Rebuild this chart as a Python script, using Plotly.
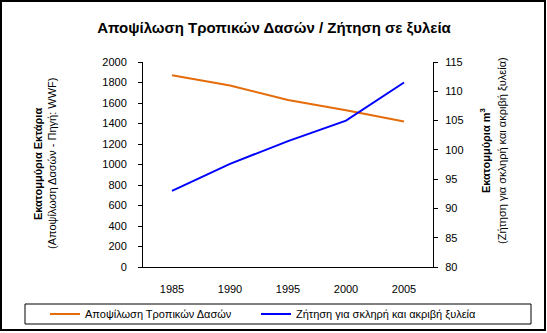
import plotly.graph_objects as go

# Data
years = ["1985", "1990", "1995", "2000", "2005"]
deforestation = [1870, 1770, 1630, 1530, 1420]      # million hectares
timber_demand = [93, 97.6, 101.5, 105, 111.5]       # million m3

left_ticks = list(range(0, 2001, 200))
right_ticks = list(range(80, 116, 5))

W, H = 547, 333
L, R, T, B = 143, 114, 62, 66
PW, PH = W - L - R, H - T - B

FONT = "Liberation Sans, Arial, sans-serif"
ORANGE = "#E46C0A"
BLUE = "#0000FF"


def px_x(x):
    return (x - L) / PW


def px_y(y):
    return (H - B - y) / PH


fig = go.Figure()
fig.add_trace(go.Scatter(
    x=years, y=deforestation, mode="lines", name="Αποψίλωση Τροπικών Δασών",
    line=dict(color=ORANGE, width=2), yaxis="y", legend="legend"))
fig.add_trace(go.Scatter(
    x=years, y=timber_demand, mode="lines", name="Ζήτηση για σκληρή και ακριβή ξυλεία",
    line=dict(color=BLUE, width=2), yaxis="y2", legend="legend2"))

axis_common = dict(showgrid=False, zeroline=False, showline=True, linecolor="black",
                   linewidth=1, tickcolor="black", ticklen=4, tickwidth=1,
                   tickfont=dict(family=FONT, size=11, color="black"))

legend_common = dict(orientation="h", xanchor="left", yanchor="middle",
                     y=px_y(314), bgcolor="rgba(0,0,0,0)", borderwidth=0,
                     font=dict(family=FONT, size=11, color="black"))

fig.update_layout(
    width=W, height=H,
    margin=dict(l=L, r=R, t=T, b=B, autoexpand=False),
    paper_bgcolor="white", plot_bgcolor="white",
    font=dict(family=FONT, size=11, color="black"),
    title=dict(text="<b>Αποψίλωση Τροπικών Δασών / Ζήτηση σε ξυλεία</b>",
               font=dict(family=FONT, size=15, color="black"),
               x=274 / W, xanchor="center", y=1 - 28 / H, yanchor="middle"),
    xaxis=dict(type="category", range=[-0.5, 4.5], showgrid=False, zeroline=False,
               showline=True, linecolor="black", linewidth=1, ticks="",
               ticklabelstandoff=12,
               tickfont=dict(family=FONT, size=11, color="black")),
    yaxis=dict(range=[0, 2000], tickvals=left_ticks, ticks="outside",
               ticklabelstandoff=9, **axis_common),
    yaxis2=dict(range=[80, 115], tickvals=right_ticks, ticks="outside",
                overlaying="y", side="right", anchor="x",
                ticklabelstandoff=5, **axis_common),
    # inner halves of the crossing tick marks
    yaxis3=dict(range=[0, 2000], tickvals=left_ticks, ticks="inside",
                overlaying="y", side="left", anchor="x", showticklabels=False,
                **axis_common),
    yaxis4=dict(range=[80, 115], tickvals=right_ticks, ticks="inside",
                overlaying="y", side="right", anchor="x", showticklabels=False,
                **axis_common),
    showlegend=True,
    legend=dict(x=px_x(45), **legend_common),
    legend2=dict(x=px_x(256), **legend_common),
)

# outer chart frame and legend frame
fig.add_shape(type="rect", xref="paper", yref="paper",
              x0=px_x(1), x1=px_x(545), y0=px_y(330), y1=px_y(1),
              line=dict(color="black", width=2), fillcolor="rgba(0,0,0,0)")
fig.add_shape(type="rect", xref="paper", yref="paper",
              x0=px_x(25), x1=px_x(531), y0=px_y(324), y1=px_y(304),
              line=dict(color="black", width=1), fillcolor="rgba(0,0,0,0)")

# axis titles
fig.add_annotation(text="<b>Εκατομμύρια Εκτάρια</b>", xref="paper", yref="paper",
                   x=px_x(30), y=px_y(164), textangle=-90, showarrow=False,
                   font=dict(family=FONT, size=11, color="black"))
fig.add_annotation(text="(Αποψίλωση Δασών - Πηγή: WWF)", xref="paper", yref="paper",
                   x=px_x(44), y=px_y(164), textangle=-90, showarrow=False,
                   font=dict(family=FONT, size=11, color="black"))
fig.add_annotation(text="<b>Εκατομμύρια m<sup>3</sup></b>", xref="paper", yref="paper",
                   x=px_x(494), y=px_y(151), textangle=-90, showarrow=False,
                   font=dict(family=FONT, size=11, color="black"))
fig.add_annotation(text="(Ζήτηση για σκληρή και ακριβή ξυλεία)", xref="paper", yref="paper",
                   x=px_x(510), y=px_y(151), textangle=-90, showarrow=False,
                   font=dict(family=FONT, size=11, color="black"))

fig.write_html("out.html")
